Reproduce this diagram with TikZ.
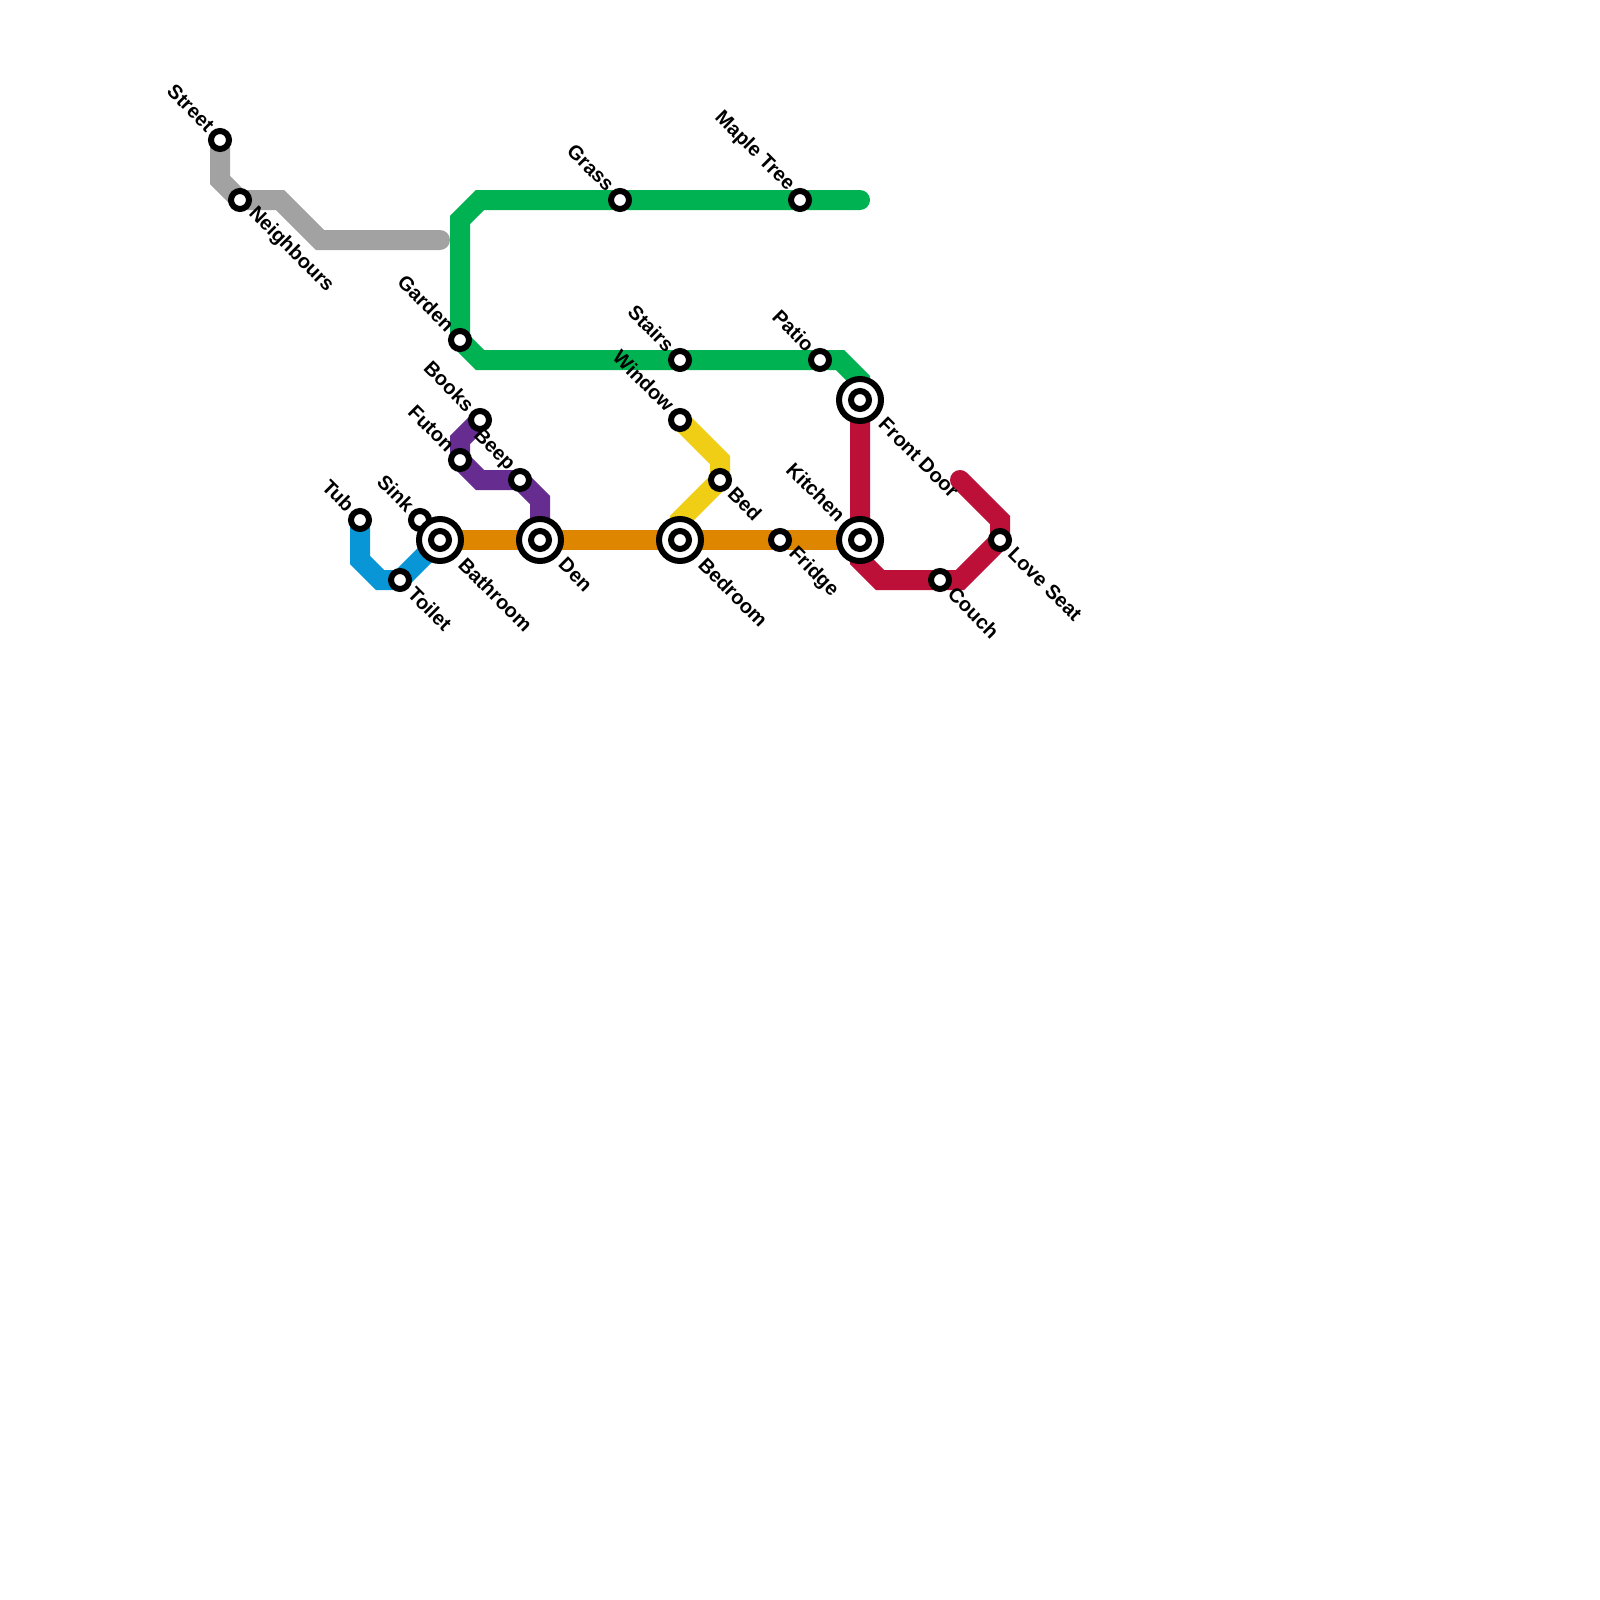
\documentclass[tikz,border=0pt]{standalone}
\usepackage{fontspec}
\setmainfont{Liberation Sans}
\usetikzlibrary{backgrounds}
\definecolor{cgrey}{HTML}{A2A2A2}
\definecolor{cgreen}{HTML}{00B251}
\definecolor{cpurple}{HTML}{662C90}
\definecolor{cblue}{HTML}{0896D7}
\definecolor{corange}{HTML}{DF8600}
\definecolor{cyellow}{HTML}{F0CE15}
\definecolor{cred}{HTML}{BD1038}
\tikzset{
  x=1pt,y=-1pt,
  stn/.style={circle,draw=black,fill=white,line width=6pt,minimum size=18pt,inner sep=0pt,outer sep=0pt},
  hub/.style={circle,draw=black,fill=white,line width=6pt,minimum size=42pt,inner sep=0pt,outer sep=0pt,
    path picture={\draw[black,line width=6pt] (path picture bounding box.center) circle (9pt);}},
  metro/.style={line width=20pt,line cap=round,line join=miter,miter limit=10},
  lbl/.style={font=\bfseries\fontsize{20}{22}\selectfont,inner sep=0pt,text=black},
  lblL/.style={lbl,shift={(-9,-12)},rotate=-45,anchor=east},
  lblR/.style={lbl,shift={(11.5,10.5)},rotate=-45,anchor=west},
  hubL/.style={lbl,shift={(-18,-22)},rotate=-45,anchor=east},
  hubR/.style={lbl,shift={(22,21)},rotate=-45,anchor=west},
}
\begin{document}
\begin{tikzpicture}
\useasboundingbox (0,0) rectangle (1600,1600);
% stations
\node[stn] (street) at (220,140) {};
\node[stn] (neighbours) at (240,200) {};
\node[stn] (grass) at (620,200) {};
\node[stn] (maple) at (800,200) {};
\node[stn] (garden) at (460,340) {};
\node[stn] (stairs) at (680,360) {};
\node[stn] (patio) at (820,360) {};
\node[stn] (books) at (480,420) {};
\node[stn] (window) at (680,420) {};
\node[stn] (futon) at (460,460) {};
\node[stn] (beep) at (520,480) {};
\node[stn] (bed) at (720,480) {};
\node[stn] (tub) at (360,520) {};
\node[stn] (sink) at (420,520) {};
\node[stn] (toilet) at (400,580) {};
\node[stn] (fridge) at (780,540) {};
\node[stn] (couch) at (940,580) {};
\node[stn] (loveseat) at (1000,540) {};
\node[hub] (frontdoor) at (860,400) {};
\node[hub] (bathroom) at (440,540) {};
\node[hub] (den) at (540,540) {};
\node[hub] (bedroom) at (680,540) {};
\node[hub] (kitchen) at (860,540) {};
% free ends
\coordinate (greyend) at (440,240);
\coordinate (greenend) at (860,200);
\coordinate (redend) at (960,480);
% connectors
\begin{pgfonlayer}{background}
\draw[metro,cgrey] (street.center) -- (220,180) -- (neighbours.center) -- (280,200) -- (320,240) -- (greyend);
\draw[metro,cblue] (tub.center) -- (360,560) -- (380,580) -- (toilet.center) -- (bathroom.center);
\draw[metro,cpurple] (books.center) -- (460,440) -- (futon.center) -- (480,480) -- (beep.center) -- (540,500) -- (den.center);
\draw[metro,cyellow] (window.center) -- (720,460) -- (bed.center) -- (680,520) -- (bedroom.center);
\draw[metro,cred] (frontdoor.center) -- (kitchen.center) -- (860,560) -- (880,580) -- (couch.center) -- (960,580) -- (loveseat.center) -- (1000,520) -- (redend);
\draw[metro,corange] (bathroom.center) -- (den.center) -- (bedroom.center) -- (fridge.center) -- (kitchen.center);
\draw[metro,cgreen] (greenend) -- (maple.center) -- (grass.center) -- (480,200) -- (460,220) -- (garden.center) -- (480,360) -- (stairs.center) -- (patio.center) -- (840,360) -- (860,380) -- (frontdoor.center);
\end{pgfonlayer}
% labels
\node[lblL] (lstreet) at (street) {Street};
\node[lblR] (lneighbours) at (neighbours) {Neighbours};
\node[lblL] (lgrass) at (grass) {Grass};
\node[lblL] (lmaple) at (maple) {Maple Tree};
\node[lblL] (lgarden) at (garden) {Garden};
\node[lblL] (lstairs) at (stairs) {Stairs};
\node[lblL] (lpatio) at (patio) {Patio};
\node[lblL] (lbooks) at (books) {Books};
\node[lblL] (lwindow) at (window) {Window};
\node[lblL] (lfuton) at (futon) {Futon};
\node[lblL] (lbeep) at (beep) {Beep};
\node[lblR] (lbed) at (bed) {Bed};
\node[lblL] (ltub) at (tub) {Tub};
\node[lblL] (lsink) at (sink) {Sink};
\node[lblR] (ltoilet) at (toilet) {Toilet};
\node[lblR] (lfridge) at (fridge) {Fridge};
\node[lblR] (lcouch) at (couch) {Couch};
\node[lblR] (lloveseat) at (loveseat) {Love Seat};
\node[hubR] (lfrontdoor) at (frontdoor) {Front Door};
\node[hubR] (lbathroom) at (bathroom) {Bathroom};
\node[hubR] (lden) at (den) {Den};
\node[hubR] (lbedroom) at (bedroom) {Bedroom};
\node[hubL] (lkitchen) at (kitchen) {Kitchen};
\end{tikzpicture}
\end{document}
